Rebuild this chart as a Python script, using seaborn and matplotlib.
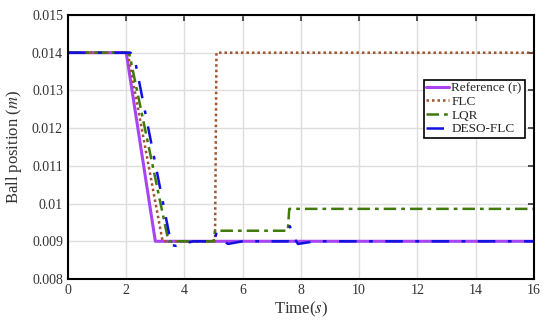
import matplotlib
matplotlib.use("Agg")
import matplotlib.pyplot as plt
import seaborn as sns

# piecewise responses
t_ref = [0, 2.0, 3.0, 16]
y_ref = [0.014, 0.014, 0.009, 0.009]

t_flc = [0, 2.05, 3.25, 5.05, 5.1, 16]
y_flc = [0.014, 0.014, 0.009, 0.009, 0.014, 0.014]

t_lqr = [0, 2.1, 3.45, 5.0, 5.05, 7.55, 7.6, 16]
y_lqr = [0.014, 0.014, 0.009, 0.009, 0.00928, 0.00928, 0.00986, 0.00986]

t_deso = [0, 2.15, 2.3, 3.55, 3.7, 4.3, 5.0, 5.1, 5.25, 5.5, 6.0, 7.55, 7.62, 7.75, 7.9, 8.5, 16]
y_deso = [0.014, 0.014, 0.0138, 0.0089, 0.00888, 0.009, 0.009, 0.0092, 0.00905, 0.00893, 0.009,
          0.009, 0.0094, 0.0091, 0.00893, 0.009, 0.009]

sns.set_style("whitegrid")
plt.rcParams['font.family'] = ['Liberation Serif', 'DejaVu Serif']
plt.rcParams['mathtext.fontset'] = 'stix'

fig = plt.figure(figsize=(5.5, 3.22), dpi=100)
ax = fig.add_axes([0.1236, 0.1335, 0.847, 0.82])

sns.lineplot(x=t_ref, y=y_ref, ax=ax, color='#A845F0', lw=2.2, estimator=None, sort=False,
             label='Reference (r)')
sns.lineplot(x=t_flc, y=y_flc, ax=ax, color='#A0522D', lw=1.8, estimator=None, sort=False,
             label='FLC', linestyle=(0, (1, 1.2)))
sns.lineplot(x=t_lqr, y=y_lqr, ax=ax, color='#3F7A0A', lw=1.8, estimator=None, sort=False,
             label='LQR', linestyle=(0, (5, 2, 1.5, 2)))
sns.lineplot(x=t_deso, y=y_deso, ax=ax, color='#1010E0', lw=1.8, estimator=None, sort=False,
             label='DESO-FLC', linestyle=(0, (7, 5, 1.5, 5)))

ax.set_xlim(0, 16)
ax.set_ylim(0.008, 0.015)
ax.set_xticks(range(0, 17, 2))
ax.set_yticks([0.008, 0.009, 0.01, 0.011, 0.012, 0.013, 0.014, 0.015])
ax.set_yticklabels(['0.008', '0.009', '0.01', '0.011', '0.012', '0.013', '0.014', '0.015'])
ax.tick_params(direction='in', top=True, right=True, length=4, width=1.2, labelsize=10,
               colors='#333333')
ax.grid(True, color='#dddddd', lw=1)
for s in ax.spines.values():
    s.set_color('black')
    s.set_linewidth(1.5)

ax.set_xlabel('Time($s$)', fontsize=12, color='#333333', labelpad=2)
ax.set_ylabel('Ball position ($m$)', fontsize=12, color='#333333', labelpad=6)

leg = ax.legend(loc='center right', bbox_to_anchor=(0.98, 0.645), fontsize=9.5, frameon=True,
                fancybox=False, handlelength=1.7, handletextpad=0.2, borderpad=0.2,
                labelspacing=0.1, borderaxespad=0)
leg.get_frame().set_edgecolor('black')
leg.get_frame().set_linewidth(1.2)
leg.get_frame().set_alpha(1)

fig.savefig('out.png', dpi=100)
